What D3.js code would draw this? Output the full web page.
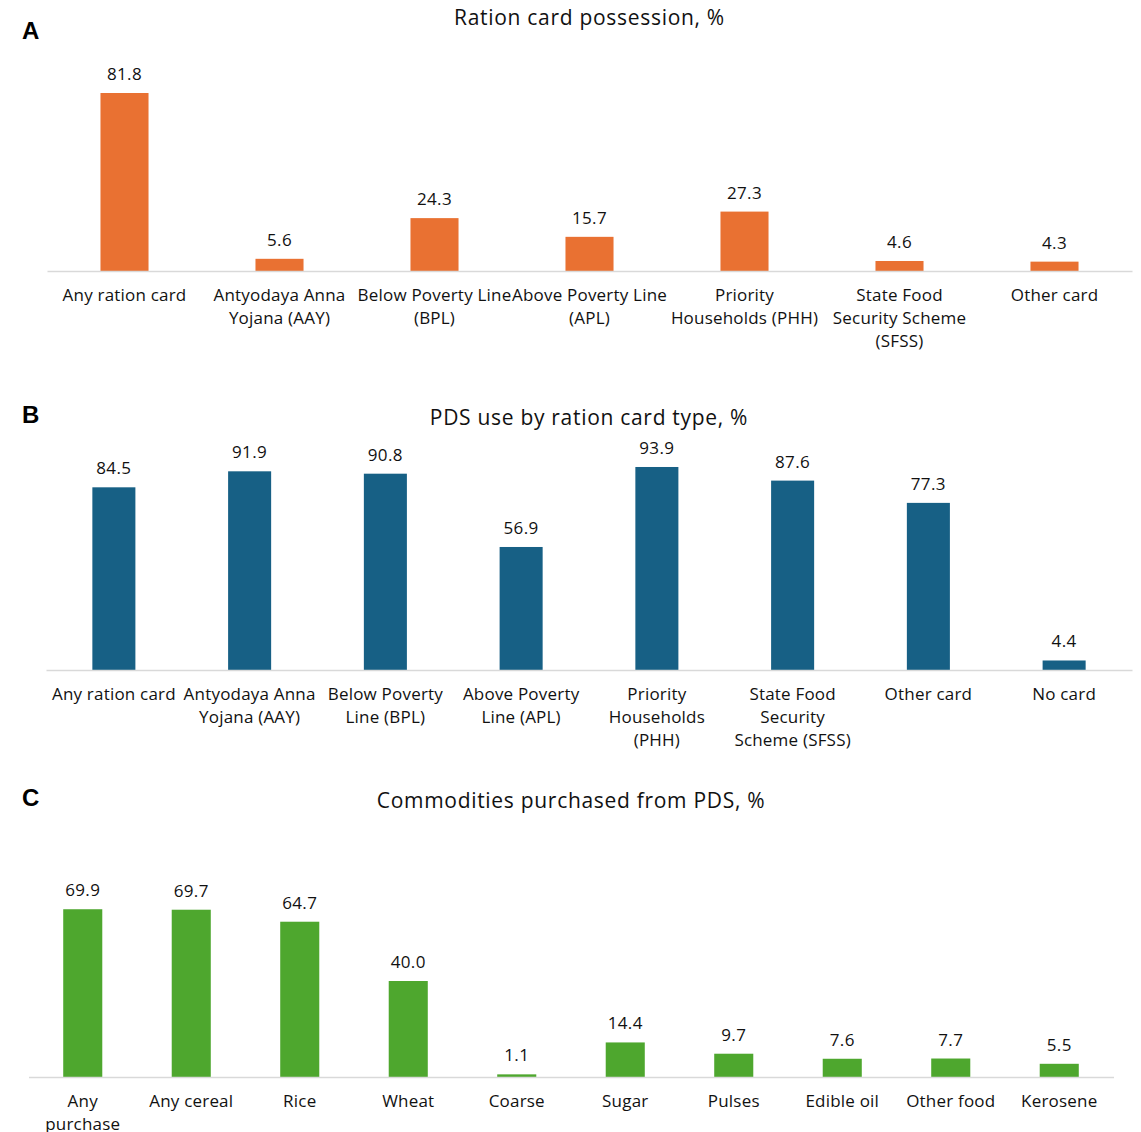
<!DOCTYPE html>
<html><head><meta charset="utf-8">
<script src="https://cdn.jsdelivr.net/npm/d3@7"></script>
<style>body{margin:0;background:#fff}svg{display:block}</style>
</head><body>
<svg id="c" width="1141" height="1132"></svg>
<script>
const catsA = ["Any ration card","Antyodaya Anna\nYojana (AAY)","Below Poverty Line\n(BPL)","Above Poverty Line\n(APL)","Priority\nHouseholds (PHH)","State Food\nSecurity Scheme\n(SFSS)","Other card"];
const valsA = [81.8,5.6,24.3,15.7,27.3,4.6,4.3];
const catsB = ["Any ration card","Antyodaya Anna\nYojana (AAY)","Below Poverty\nLine (BPL)","Above Poverty\nLine (APL)","Priority\nHouseholds\n(PHH)","State Food\nSecurity\nScheme (SFSS)","Other card","No card"];
const valsB = [84.5,91.9,90.8,56.9,93.9,87.6,77.3,4.4];
const catsC = ["Any\npurchase","Any cereal","Rice","Wheat","Coarse","Sugar","Pulses","Edible oil","Other food","Kerosene"];
const valsC = [69.9,69.7,64.7,40.0,1.1,14.4,9.7,7.6,7.7,5.5];

const FONT = "'Open Sans', 'Noto Sans', sans-serif";
const svg = d3.select("#c");

function panel(o){
  const g = svg.append("g");
  const x = d3.scaleBand().domain(o.cats).range([o.x0,o.x1]);
  const y = d3.scaleLinear().domain([0,100]).range([o.base,o.base-o.h]);
  const bw = x.bandwidth()*o.frac;
  g.append("text").attr("x",22).attr("y",o.letterY).text(o.letter)
    .attr("font-family","Arial, 'Liberation Sans', sans-serif").attr("font-weight","bold").attr("font-size",24).attr("fill","#000");
  g.append("text").attr("x",(o.x0+o.x1)/2).attr("y",o.titleY).attr("text-anchor","middle")
    .attr("font-family",FONT).attr("font-size",21).attr("letter-spacing",0.7).attr("fill","#111").text(o.title);
  g.selectAll("rect.bar").data(o.vals).join("rect").attr("class","bar")
    .attr("x",(d,i)=>x(o.cats[i])+x.bandwidth()/2-bw/2).attr("width",bw)
    .attr("y",d=>y(d)).attr("height",d=>o.base-y(d)).attr("fill",o.color);
  const ax = g.append("g").attr("transform",`translate(0,${o.base})`)
    .call(d3.axisBottom(x).tickSize(0).tickSizeOuter(0).tickFormat(""));
  ax.select(".domain").attr("stroke","#d9d9d9").attr("stroke-width",1.5);
  ax.selectAll(".tick").each(function(d){
    const t = d3.select(this).append("text").attr("fill","#111").attr("font-family",FONT)
      .attr("font-size",17).attr("letter-spacing",0.2).attr("text-anchor","middle");
    d.split("\n").forEach((ln,j)=>t.append("tspan").attr("x",0).attr("y",30+j*23).text(ln));
  });
  g.selectAll("text.val").data(o.vals).join("text").attr("class","val")
    .attr("x",(d,i)=>x(o.cats[i])+x.bandwidth()/2).attr("y",d=>y(d)-13)
    .attr("text-anchor","middle").attr("font-family",FONT).attr("font-size",17).attr("letter-spacing",0.4).attr("fill","#111")
    .text(d=>d.toFixed(1));
}

panel({cats:catsA,vals:valsA,x0:47,x1:1132,base:271,h:217.6,frac:0.31,color:"#E97132",
  letter:"A",letterY:39,title:"Ration card possession, %",titleY:25});
panel({cats:catsB,vals:valsB,x0:46,x1:1132,base:670,h:216.2,frac:0.317,color:"#176085",
  letter:"B",letterY:423,title:"PDS use by ration card type, %",titleY:425});
panel({cats:catsC,vals:valsC,x0:28.5,x1:1113.5,base:1077,h:240,frac:0.36,color:"#4EA72E",
  letter:"C",letterY:806,title:"Commodities purchased from PDS, %",titleY:808});
</script>
</body></html>
